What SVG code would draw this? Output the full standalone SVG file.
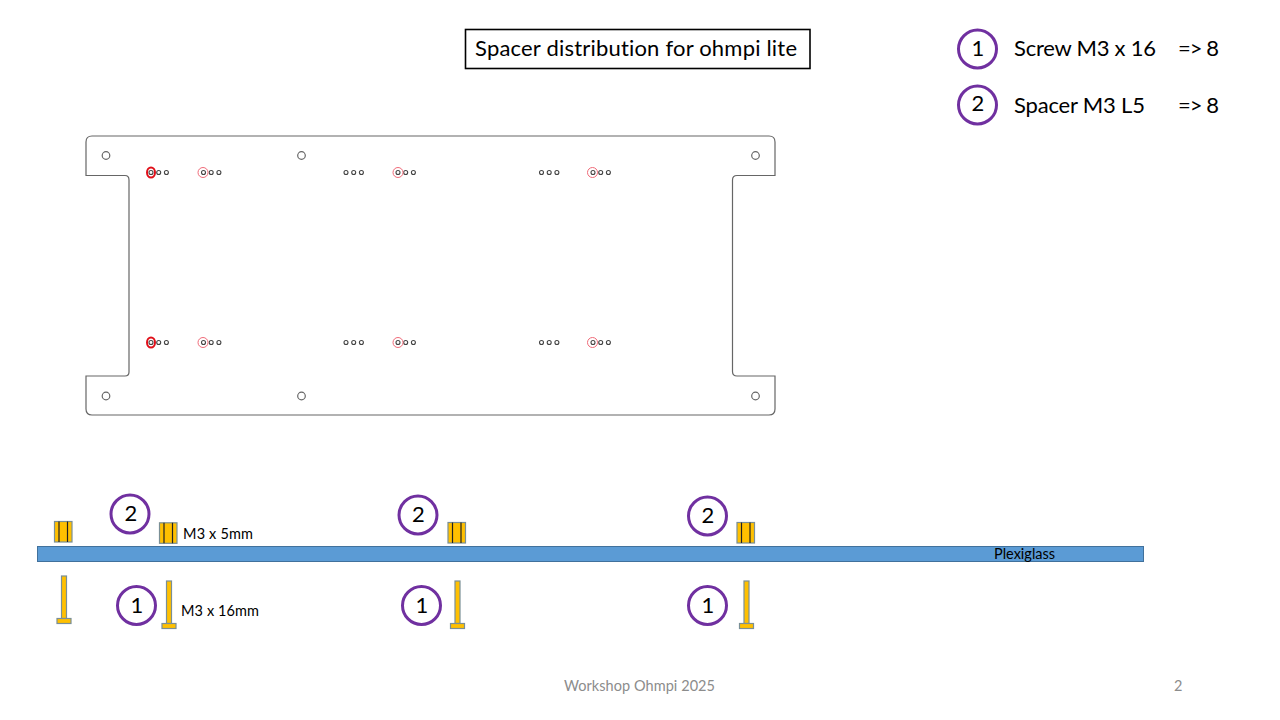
<svg xmlns="http://www.w3.org/2000/svg" width="1280" height="720" viewBox="0 0 1280 720">
<style>
text{font-family:"Lato","Carlito","Liberation Sans",sans-serif;fill:#000;font-variant-ligatures:none}
.big{font-size:22px}
.num{font-size:22px;text-anchor:middle}
.small{font-size:14.5px}
.foot{font-size:14.5px;fill:#8c8c8c}
.badge{fill:#fff;stroke:#7030a0;stroke-width:3}
.plate{fill:#fff;stroke:#666;stroke-width:1.2}
.mh{fill:#fff;stroke:#666;stroke-width:1.2}
.h{fill:#fff;stroke:#444;stroke-width:1.1}
.r{fill:none;stroke:#f06a78;stroke-width:1}
.rs{fill:none;stroke:#e0101a;stroke-width:2}
.part{fill:#ffc000;stroke:#7a8f96;stroke-width:1.2}
.bar{fill:none;stroke:#222;stroke-width:1.2}
</style>
<defs>
<g id="spacer"><rect class="part" x="0" y="0" width="17.5" height="20.5"/><path class="bar" d="M4.500 0V20.5M13 0V20.5"/></g>
<g id="screw"><rect class="part" x="-2.5" y="0" width="5" height="42.500"/><rect class="part" x="-7" y="42.500" width="14" height="5"/></g>
<g id="trio"><circle class="h" cx="0" cy="0" r="2"/><circle class="h" cx="7.700" cy="0" r="2"/><circle class="h" cx="15.400" cy="0" r="2"/></g>
</defs>
<g id="title"><rect x="465.500" y="29.500" width="344.500" height="39" fill="#fff" stroke="#000" stroke-width="1.600"/><text class="big" x="475" y="56" textLength="322">Spacer distribution for ohmpi lite</text></g>
<g id="legend-1"><circle class="badge" cx="977.500" cy="49" r="19"/><text class="num" x="978" y="56">1</text><text class="big" x="1014" y="56" textLength="142">Screw M3 x 16</text><text class="big" x="1178" y="56" textLength="41">=&gt; 8</text></g>
<g id="legend-2"><circle class="badge" cx="977.500" cy="105" r="19"/><text class="num" x="978" y="111">2</text><text class="big" x="1014" y="113" textLength="131">Spacer M3 L5</text><text class="big" x="1178" y="113" textLength="41">=&gt; 8</text></g>
<g id="plate">
<path class="plate" d="M92 136H769Q775 136 775 142V175.500H737Q732.500 175.500 732.500 180V371.500Q732.500 376 737 376H775V409Q775 415 769 415H92Q86 415 86 409V376H125Q129 376 129 372V180Q129 175.500 125 175.500H86V142Q86 136 92 136Z"/>
<circle class="mh" cx="106" cy="155.500" r="3.800"/><circle class="mh" cx="301.500" cy="155.500" r="3.800"/><circle class="mh" cx="755.500" cy="155.500" r="3.800"/>
<circle class="mh" cx="106" cy="396" r="3.800"/><circle class="mh" cx="301.500" cy="396" r="3.800"/><circle class="mh" cx="755.500" cy="396" r="3.800"/>
<use href="#trio" x="151" y="172.500"/><use href="#trio" x="203.500" y="172.500"/><use href="#trio" x="346" y="172.500"/><use href="#trio" x="398" y="172.500"/><use href="#trio" x="541.500" y="172.500"/><use href="#trio" x="593" y="172.500"/>
<use href="#trio" x="151" y="342.500"/><use href="#trio" x="203.500" y="342.500"/><use href="#trio" x="346" y="342.500"/><use href="#trio" x="398" y="342.500"/><use href="#trio" x="541.500" y="342.500"/><use href="#trio" x="593" y="342.500"/>
<ellipse class="rs" cx="151" cy="172.500" rx="4" ry="5"/><ellipse class="rs" cx="151" cy="342.500" rx="4" ry="5"/>
<circle class="r" cx="203" cy="172.500" r="5"/><circle class="r" cx="398" cy="172.500" r="5"/><circle class="r" cx="592.500" cy="172.500" r="5"/>
<circle class="r" cx="203" cy="342.500" r="5"/><circle class="r" cx="398" cy="342.500" r="5"/><circle class="r" cx="592.500" cy="342.500" r="5"/>
</g>
<g id="plexiglass"><rect x="37.500" y="546.500" width="1106" height="15" fill="#5b9bd5" stroke="#41719c" stroke-width="1"/><text class="small" x="994" y="558.500">Plexiglass</text></g>
<g id="spacer-group-1"><use href="#spacer" x="54.500" y="521.500"/><use href="#spacer" x="159.500" y="522.800"/><circle class="badge" cx="130" cy="514" r="19"/><text class="num" x="131" y="521">2</text><text class="small" x="183" y="539" textLength="70">M3 x 5mm</text></g>
<g id="spacer-group-2"><use href="#spacer" x="448" y="522.500"/><circle class="badge" cx="418" cy="515" r="19"/><text class="num" x="418.500" y="522">2</text></g>
<g id="spacer-group-3"><use href="#spacer" x="737" y="522.500"/><circle class="badge" cx="707.500" cy="516" r="19"/><text class="num" x="708" y="523">2</text></g>
<g id="screw-group-1"><use href="#screw" x="64" y="576"/><use href="#screw" x="169" y="581"/><circle class="badge" cx="136.500" cy="605.500" r="19"/><text class="num" x="137" y="612.500">1</text><text class="small" x="181" y="616" textLength="78">M3 x 16mm</text></g>
<g id="screw-group-2"><use href="#screw" x="457.500" y="581"/><circle class="badge" cx="421.500" cy="605.500" r="19"/><text class="num" x="422" y="612.500">1</text></g>
<g id="screw-group-3"><use href="#screw" x="746.500" y="581"/><circle class="badge" cx="707.500" cy="605.500" r="19"/><text class="num" x="708" y="612.500">1</text></g>
<g id="footer"><text class="foot" x="564" y="691" textLength="151">Workshop Ohmpi 2025</text><text class="foot" x="1174" y="691">2</text></g>
</svg>
